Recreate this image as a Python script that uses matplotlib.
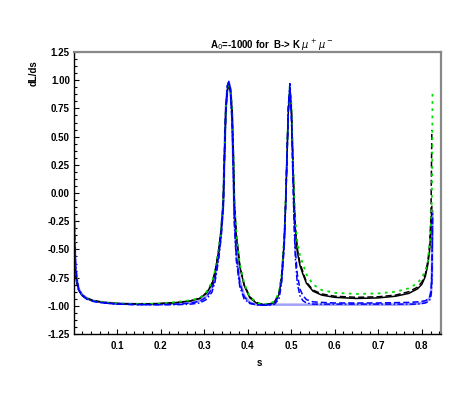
import numpy as np
import matplotlib
matplotlib.use("Agg")
import matplotlib.pyplot as plt
from matplotlib.ticker import MultipleLocator, FormatStrFormatter

nan = np.nan

s = [0.0016, 0.003, 0.005, 0.008, 0.012, 0.02, 0.03, 0.045, 0.07, 0.1,
     0.15, 0.2, 0.24, 0.27, 0.29, 0.305, 0.318, 0.325, 0.333, 0.339,
     0.344, 0.3467, 0.3498, 0.3535, 0.357, 0.3605, 0.3643, 0.3673, 0.3696, 0.374,
     0.382, 0.392, 0.405, 0.42, 0.435, 0.45, 0.462, 0.472, 0.478, 0.484,
     0.4875, 0.4905, 0.4935, 0.497, 0.5005, 0.5035, 0.5065, 0.5095, 0.514, 0.52,
     0.527, 0.535, 0.55, 0.57, 0.6, 0.65, 0.7, 0.74, 0.77, 0.79,
     0.80, 0.808, 0.814, 0.818, 0.821, 0.823, 0.824, 0.8245]

black_solid = [-0.42, -0.60, -0.72, -0.80, -0.86, -0.91, -0.935, -0.955, -0.97, -0.98,
               -0.985, -0.98, -0.97, -0.955, -0.935, -0.89, -0.81, -0.71, -0.53, -0.34,
               -0.10, 0.31, 0.72, 0.91, 0.95, 0.91, 0.72, 0.31, -0.10, -0.38,
               -0.65, -0.82, -0.93, -0.975, -0.99, -0.985, -0.97, -0.90, -0.75, -0.43,
               -0.06, 0.34, 0.73, 0.90, 0.73, 0.34, -0.06, -0.32, -0.52, -0.64,
               -0.72, -0.80, -0.87, -0.905, -0.925, -0.935, -0.93, -0.915, -0.89, -0.85,
               -0.81, -0.74, -0.63, -0.50, -0.30, -0.12, nan, nan]

black_dashed = [-0.40, -0.58, -0.70, -0.79, -0.855, -0.905, -0.93, -0.955, -0.97, -0.98,
                -0.985, -0.98, -0.97, -0.955, -0.935, -0.885, -0.80, -0.70, -0.52, -0.33,
                -0.08, 0.33, 0.74, 0.93, 0.97, 0.93, 0.74, 0.33, -0.08, -0.37,
                -0.64, -0.81, -0.92, -0.97, -0.99, -0.985, -0.965, -0.89, -0.74, -0.41,
                -0.04, 0.36, 0.75, 0.93, 0.76, 0.37, -0.03, -0.29, -0.49, -0.62,
                -0.70, -0.79, -0.86, -0.895, -0.915, -0.925, -0.92, -0.905, -0.875, -0.835,
                -0.79, -0.72, -0.60, -0.45, -0.20, 0.56, nan, nan]

green_dotted = [-0.45, -0.62, -0.73, -0.80, -0.86, -0.905, -0.935, -0.955, -0.97, -0.98,
                -0.985, -0.98, -0.965, -0.95, -0.93, -0.88, -0.79, -0.69, -0.51, -0.32,
                -0.07, 0.34, 0.75, 0.92, 0.95, 0.92, 0.75, 0.35, -0.06, -0.35,
                -0.63, -0.80, -0.92, -0.97, -0.99, -0.98, -0.96, -0.88, -0.72, -0.39,
                -0.02, 0.38, 0.77, 0.96, 0.79, 0.41, 0.02, -0.24, -0.43, -0.55,
                -0.63, -0.72, -0.81, -0.86, -0.885, -0.895, -0.89, -0.875, -0.845, -0.80,
                -0.75, -0.69, -0.60, -0.45, -0.28, -0.05, 0.40, 0.90]

blue_light = [-0.17, -0.45, -0.65, -0.77, -0.85, -0.90, -0.93, -0.955, -0.97, -0.98,
              -0.985, -0.985, -0.98, -0.97, -0.955, -0.915, -0.84, -0.74, -0.55, -0.36,
              -0.10, 0.32, 0.74, 0.94, 0.98, 0.92, 0.68, 0.22, -0.20, -0.52,
              -0.78, -0.91, -0.97, -0.99, -0.99, -0.99, -0.99, -0.99, -0.99, -0.99,
              -0.99, -0.99, -0.99, -0.99, -0.99, -0.99, -0.99, -0.99, -0.99, -0.99,
              -0.99, -0.99, -0.99, -0.99, -0.99, -0.99, -0.99, -0.99, -0.988, -0.98,
              -0.975, -0.965, -0.95, -0.93, -0.89, -0.75, -0.40, -0.15]

blue_dashed = [-0.20, -0.48, -0.67, -0.78, -0.86, -0.91, -0.94, -0.96, -0.975, -0.985,
               -0.99, -0.99, -0.985, -0.975, -0.96, -0.925, -0.85, -0.76, -0.57, -0.37,
               -0.11, 0.31, 0.74, 0.95, 0.99, 0.91, 0.66, 0.20, -0.22, -0.55,
               -0.80, -0.92, -0.975, -0.99, -0.995, -0.99, -0.975, -0.91, -0.77, -0.45,
               -0.07, 0.35, 0.75, 0.95, 0.70, 0.25, -0.20, -0.50, -0.72, -0.85,
               -0.91, -0.945, -0.965, -0.97, -0.975, -0.975, -0.975, -0.972, -0.97, -0.965,
               -0.96, -0.955, -0.94, -0.92, -0.87, -0.72, -0.40, -0.18]

blue_dashdot = [-0.15, -0.42, -0.63, -0.76, -0.85, -0.905, -0.935, -0.96, -0.975, -0.985,
                -0.99, -0.99, -0.99, -0.985, -0.975, -0.945, -0.88, -0.79, -0.60, -0.40,
                -0.13, 0.29, 0.73, 0.95, 0.99, 0.90, 0.63, 0.15, -0.28, -0.60,
                -0.83, -0.94, -0.98, -0.99, -0.995, -0.995, -0.985, -0.94, -0.80, -0.48,
                -0.10, 0.32, 0.74, 0.97, 0.68, 0.20, -0.26, -0.58, -0.80, -0.91,
                -0.955, -0.975, -0.985, -0.985, -0.985, -0.985, -0.985, -0.985, -0.985, -0.985,
                -0.98, -0.975, -0.965, -0.95, -0.91, -0.80, -0.50, -0.20]

xticks = [0.1, 0.2, 0.3, 0.4, 0.5, 0.6, 0.7, 0.8]
yticks = [-1.25, -1.0, -0.75, -0.5, -0.25, 0.0, 0.25, 0.5, 0.75, 1.0, 1.25]

plt.rcParams['font.family'] = ['Liberation Sans', 'DejaVu Sans']

fig = plt.figure(figsize=(4.74, 3.99), dpi=100)
ax = fig.add_axes([74/474, 1 - 334/399, (441 - 74)/474, (334 - 52)/399])

ax.plot(s, blue_light, color='#7a7aff', lw=1.8, alpha=0.7, solid_capstyle='butt')
ax.plot(s, black_solid, color='black', lw=1.1)
ax.plot(s, black_dashed, color='black', lw=1.1, ls=(0, (4, 2)))
ax.plot(s, green_dotted, color='#00dd00', lw=1.3, ls=(0, (1.5, 2.5)))
ax.plot(s, blue_dashed, color='#0000ff', lw=1.1, ls=(0, (4, 2)))
ax.plot(s, blue_dashdot, color='#0000ff', lw=1.1, ls=(0, (4, 1.5, 1, 1.5)))

ax.set_xlim(0.0013, 0.844)
ax.set_ylim(-1.25, 1.25)
ax.set_xticks(xticks)
ax.set_yticks(yticks)
ax.xaxis.set_minor_locator(MultipleLocator(0.02))
ax.yaxis.set_minor_locator(MultipleLocator(0.0625))
ax.xaxis.set_major_formatter(FormatStrFormatter('%.1f'))
ax.yaxis.set_major_formatter(FormatStrFormatter('%.2f'))

ax.tick_params(which='both', direction='in', top=False, right=False, width=0.8, color='black')
ax.tick_params(which='major', length=3.5, labelsize=7, pad=3)
ax.tick_params(which='minor', length=2)
ax.tick_params(axis='x', pad=5)
for lab in ax.get_xticklabels() + ax.get_yticklabels():
    lab.set_fontweight('bold')

for side in ['left', 'bottom']:
    ax.spines[side].set_color('black')
    ax.spines[side].set_linewidth(1.0)
for side in ['top', 'right']:
    ax.spines[side].set_color('#888888')
    ax.spines[side].set_linewidth(1.6)

fig.text(272/474, 1 - 45/399, r'A$_0$=-1000 for  B-> K $\mu^+\,\mu^-$', ha='center', va='center',
         fontsize=7, fontweight='bold')
fig.text(34/474, 1 - 73/399, 'dL/ds', rotation=90, ha='center', va='center', fontsize=7, fontweight='bold')
fig.text(259/474, 1 - 363/399, 's', ha='center', va='center', fontsize=7, fontweight='bold')

fig.savefig('out.png', dpi=100)
